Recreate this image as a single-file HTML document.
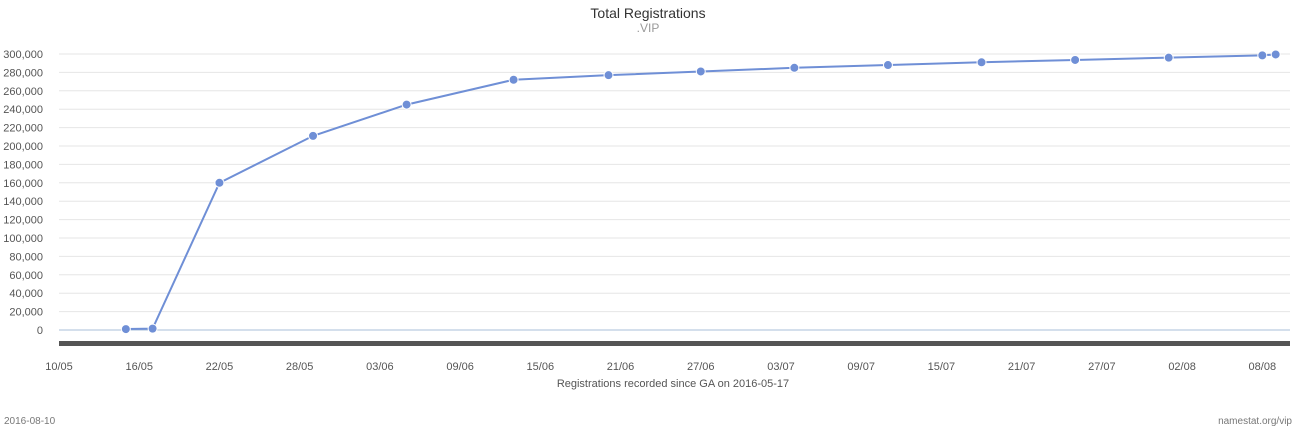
<!DOCTYPE html>
<html><head><meta charset="utf-8"><style>
body{margin:0;background:#fff;font-family:"Liberation Sans",sans-serif;}
</style></head><body>
<svg id="c" width="1296" height="430" xmlns="http://www.w3.org/2000/svg" style="font-family:'Liberation Sans',sans-serif">
<text x="648" y="18" text-anchor="middle" font-size="14" fill="#333">Total Registrations</text>
<text x="648" y="32" text-anchor="middle" font-size="12" fill="#999">.VIP</text>
<text x="673" y="387" text-anchor="middle" font-size="11" fill="#555">Registrations recorded since GA on 2016-05-17</text>
<text x="4" y="424" font-size="10" fill="#777">2016-08-10</text>
<text x="1292" y="424" text-anchor="end" font-size="10" fill="#777">namestat.org/vip</text>
<g id="grid"></g><g id="axes"></g><g id="series"></g>
</svg>
<script>
const yTicks=[0,20000,40000,60000,80000,100000,120000,140000,160000,180000,200000,220000,240000,260000,280000,300000];
const xTickLabels=["10/05","16/05","22/05","28/05","03/06","09/06","15/06","21/06","27/06","03/07","09/07","15/07","21/07","27/07","02/08","08/08"];
const dayOffsets=[5,7,12,19,26,34,41.1,48,55,62,69,76,83,90,91];
const totals=[1000,1500,160000,211000,245000,272000,277000,281000,285000,288000,291000,293500,296000,298500,299500];
const NS="http://www.w3.org/2000/svg";
const L=59,R=1290;
const y=v=>330-v*0.00092;
const x=d=>L+d*13.37;
function fmt(v){return String(v).replace(/\B(?=(\d{3})+(?!\d))/g,',');}
function mk(t,a,p){const e=document.createElementNS(NS,t);for(const k in a)e.setAttribute(k,a[k]);p.appendChild(e);return e;}
const g=document.getElementById('grid'),ax=document.getElementById('axes'),s=document.getElementById('series');
yTicks.forEach(v=>{
 const l=mk('line',{x1:L,x2:R,y1:y(v),y2:y(v),stroke:v===0?'#a8bfd8':'#e6e6e6','stroke-width':1},g);
 
 
 const t=mk('text',{x:43,y:y(v)+4,'text-anchor':'end','font-size':11,fill:'#555'},ax);
 t.textContent=fmt(v);
 
 
});
const bar=mk('rect',{x:L,y:341,width:R-L,height:5,fill:'#555'},ax);


xTickLabels.forEach((lab,i)=>{
 const t=mk('text',{x:x(i*6),y:370,'text-anchor':'middle','font-size':11,fill:'#555'},ax);
 t.textContent=lab;
 
 
});
const pl=mk('polyline',{points:dayOffsets.map((d,i)=>x(d)+','+y(totals[i])).join(' '),fill:'none',stroke:'#6f8fd6','stroke-width':2},s);


dayOffsets.forEach((d,i)=>{
 const c=mk('circle',{cx:x(d),cy:y(totals[i]),r:4.5,fill:'#6f8fd6',stroke:'#fff','stroke-width':1},s);
 
 
});
</script>
</body></html>
